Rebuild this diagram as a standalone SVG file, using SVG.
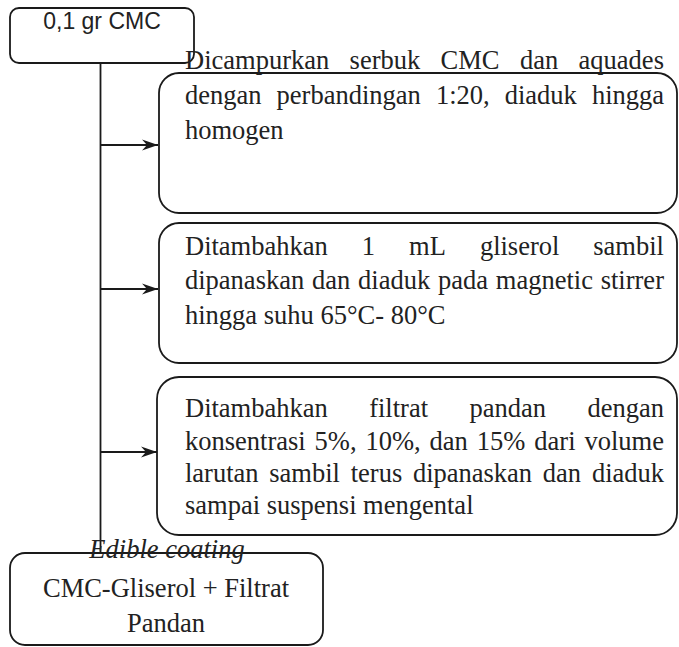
<svg xmlns="http://www.w3.org/2000/svg" width="679" height="647" viewBox="0 0 679 647">
<style>
.box{fill:#fff;stroke:#1a1a1a;stroke-width:1.8}
.t{font-family:"Liberation Serif","Times New Roman",serif;font-size:26.5px;fill:#222}
.s{font-family:"Liberation Sans",Arial,sans-serif;font-size:23px;fill:#222}
.ln{stroke:#1a1a1a;stroke-width:1.8;fill:none}
</style>
<defs>
<marker id="ah" markerWidth="18" markerHeight="12" refX="16" refY="6" orient="auto" markerUnits="userSpaceOnUse">
<path d="M0,0.5 L16,6 L0,11.5 L5,6 Z" fill="#1a1a1a"/>
</marker>
</defs>
<rect width="679" height="647" fill="#fff"/>
<g id="connectors">
<line class="ln" x1="100.5" y1="63" x2="100.5" y2="553"/>
<line class="ln" x1="100.5" y1="145" x2="158" y2="145" marker-end="url(#ah)"/>
<line class="ln" x1="100.5" y1="289" x2="158" y2="289" marker-end="url(#ah)"/>
<line class="ln" x1="100.5" y1="452" x2="157" y2="452" marker-end="url(#ah)"/>
</g>
<g id="start">
<rect class="box" x="10" y="8" width="184" height="55" rx="9"/>
<text class="s" x="102" y="29" text-anchor="middle">0,1 gr CMC</text>
</g>
<g id="step1">
<rect class="box" x="159" y="73" width="518" height="140" rx="20"/>
<text class="t" y="69"><tspan x="185">Dicampurkan</tspan><tspan x="349.6">serbuk</tspan><tspan x="440.6">CMC</tspan><tspan x="519.9">dan</tspan><tspan x="578.6">aquades</tspan></text>
<text class="t" y="104"><tspan x="185">dengan</tspan><tspan x="276.6">perbandingan</tspan><tspan x="435.9">1:20,</tspan><tspan x="504.7">diaduk</tspan><tspan x="591.9">hingga</tspan></text>
<text class="t" x="185" y="139">homogen</text>
</g>
<g id="step2">
<rect class="box" x="159" y="223" width="518" height="140" rx="20"/>
<text class="t" y="255"><tspan x="185">Ditambahkan</tspan><tspan x="361.8">1</tspan><tspan x="409.1">mL</tspan><tspan x="479.9">gliserol</tspan><tspan x="593.3">sambil</tspan></text>
<text class="t" y="289"><tspan x="185">dipanaskan</tspan><tspan x="312">dan</tspan><tspan x="358.1">diaduk</tspan><tspan x="438">pada</tspan><tspan x="495.8">magnetic</tspan><tspan x="600.7">stirrer</tspan></text>
<text class="t" x="185" y="324">hingga suhu 65°C- 80°C</text>
</g>
<g id="step3">
<rect class="box" x="157" y="377" width="520" height="158" rx="22"/>
<text class="t" y="417"><tspan x="185">Ditambahkan</tspan><tspan x="369.2">filtrat</tspan><tspan x="469.5">pandan</tspan><tspan x="587.5">dengan</tspan></text>
<text class="t" y="450"><tspan x="185">konsentrasi</tspan><tspan x="314.6">5%,</tspan><tspan x="365.4">10%,</tspan><tspan x="429.5">dan</tspan><tspan x="476.8">15%</tspan><tspan x="534.3">dari</tspan><tspan x="584.5">volume</tspan></text>
<text class="t" y="482"><tspan x="185">larutan</tspan><tspan x="269.3">sambil</tspan><tspan x="350.7">terus</tspan><tspan x="412.9">dipanaskan</tspan><tspan x="542.8">dan</tspan><tspan x="591.9">diaduk</tspan></text>
<text class="t" x="185" y="514">sampai suspensi mengental</text>
</g>
<g id="result">
<rect class="box" x="10" y="553" width="313" height="92" rx="15"/>
<text class="t" x="167" y="558" text-anchor="middle" font-style="italic">Edible coating</text>
<text class="t" x="166" y="597" text-anchor="middle">CMC-Gliserol + Filtrat</text>
<text class="t" x="166" y="632" text-anchor="middle">Pandan</text>
</g>
</svg>
